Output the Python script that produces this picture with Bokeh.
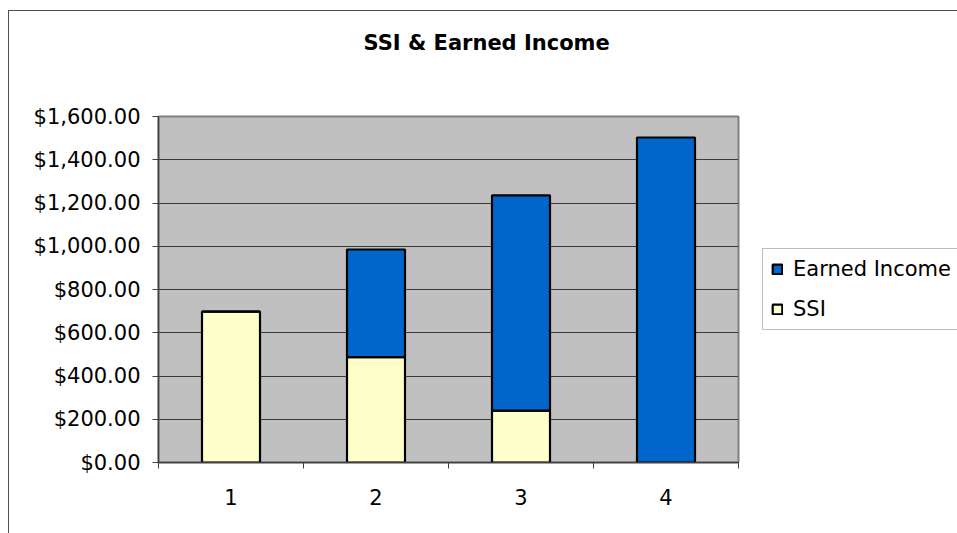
from bokeh.plotting import figure
from bokeh.models import (ColumnDataSource, FixedTicker, NumeralTickFormatter,
                          Legend, LegendItem, Range1d, LinearAxis)
from bokeh.embed import file_html
from bokeh.resources import INLINE

categories = ["1", "2", "3", "4"]
ssi = [698, 487, 240, 0]
earned = [0, 498, 995, 1503]
y_ticks = [0, 200, 400, 600, 800, 1000, 1200, 1400, 1600]

xpos = [i + 1 for i in range(len(categories))]
src = ColumnDataSource(dict(x=xpos, ssi=ssi, earned=earned))

FONT = "DejaVu Sans"

p = figure(frame_width=580, frame_height=346, output_backend="svg", toolbar_location=None,
           x_range=Range1d(0.5, len(categories) + 0.5), y_range=Range1d(0, 1600))
p.min_border_left = 149
p.min_border_right = 217
p.min_border_top = 105
p.min_border_bottom = 71
p.background_fill_color = "#c0c0c0"
p.border_fill_color = "white"
p.outline_line_color = "#808080"
p.outline_line_width = 2
p.styles = {"border-left": "1px solid #505050", "border-top": "1px solid #505050",
            "margin-top": "10px", "margin-left": "8px"}

renderers = p.vbar_stack(["ssi", "earned"], x="x", width=0.4, source=src,
                         fill_color=["#FFFFCC", "#0066CC"], line_color="black",
                         line_width=2.2)

xa = p.below[0]
ya = p.left[0]

# spacer between title and frame (invisible ticks, no labels)
spacer = LinearAxis(ticker=FixedTicker(ticks=[xpos[0]]), axis_line_color=None,
                    major_tick_line_color=None, minor_tick_line_color=None,
                    major_tick_out=57, major_tick_in=0, minor_tick_out=0,
                    major_label_standoff=0, major_label_overrides={xpos[0]: ""})
p.add_layout(spacer, "above")

# title
p.title.text = "SSI & Earned Income"
p.title.align = "left"
p.title.offset = 205
p.title.standoff = 10
p.title.text_font = FONT
p.title.text_font_size = "21px"
p.title.text_font_style = "bold"
p.title.text_color = "black"

# axes
xa.ticker = FixedTicker(ticks=xpos, minor_ticks=[0.5 + i for i in range(len(categories) + 1)])
xa.major_label_overrides = {x: c for x, c in zip(xpos, categories)}
xa.major_tick_line_color = None
xa.major_tick_out = 0
xa.major_tick_in = 0
xa.minor_tick_out = 6
xa.minor_tick_in = 0
xa.minor_tick_line_color = "#404040"
xa.axis_line_color = "#404040"
xa.major_label_standoff = 20
ya.ticker = FixedTicker(ticks=y_ticks)
ya.formatter = NumeralTickFormatter(format="$0,0.00")
ya.major_tick_out = 6
ya.major_tick_in = 0
ya.minor_tick_line_color = None
ya.axis_line_color = "#404040"
ya.major_tick_line_color = "#404040"
ya.major_label_standoff = 12
for ax in (xa, ya):
    ax.major_label_text_font = FONT
    ax.major_label_text_font_size = "21px"
    ax.major_label_text_color = "black"
    ax.axis_line_width = 1.5

p.xgrid.grid_line_color = None
p.ygrid.ticker = FixedTicker(ticks=y_ticks)
p.ygrid.grid_line_color = "#3a3a3a"
p.ygrid.grid_line_width = 1

legend = Legend(items=[LegendItem(label="Earned Income", renderers=[renderers[1]]),
                       LegendItem(label="SSI", renderers=[renderers[0]])],
                location="center_left")
legend.label_text_font = FONT
legend.label_text_font_size = "21px"
legend.label_text_color = "black"
legend.glyph_width = 12
legend.glyph_height = 12
legend.label_standoff = 10
legend.label_width = 130
legend.label_height = 24
legend.spacing = 16
legend.padding = 8
legend.margin = 24
legend.border_line_color = "#808080"
legend.border_line_width = 1.5
legend.background_fill_color = "white"
legend.background_fill_alpha = 1
p.add_layout(legend, "right")

open("out.html", "w").write(file_html(p, INLINE))
